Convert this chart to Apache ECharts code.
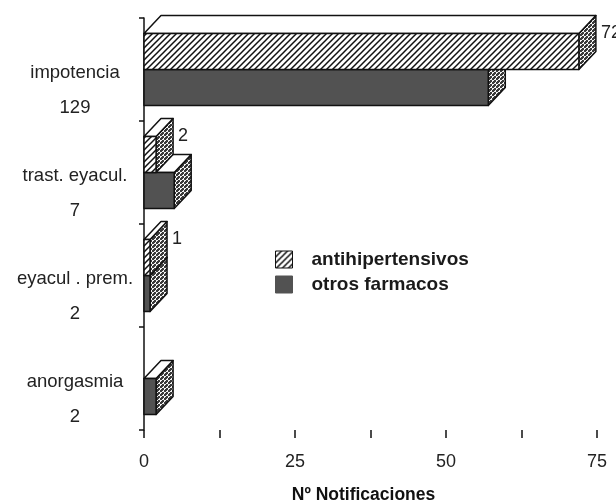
<!DOCTYPE html>
<html>
<head>
<meta charset="utf-8">
<script src="https://cdn.jsdelivr.net/npm/echarts@6/dist/echarts.min.js"></script>
<style>
  html, body { margin: 0; padding: 0; background: #fff; }
  #chart { width: 616px; height: 504px; }
</style>
</head>
<body>
<div id="chart"></div>
<script>
// Data
const categories = ['impotencia', 'trast. eyacul.', 'eyacul . prem.', 'anorgasmia'];
const totals = [129, 7, 2, 2];
const antihipertensivos = [72, 2, 1, 0];
const otrosFarmacos = [57, 5, 1, 2];
const xTicks = [0, 25, 50, 75];

const FONT = '"Liberation Sans", Arial, sans-serif';
const DX = 17, DY = 18; // 3D depth of the boxes

// Fill patterns - hatched front and dotted sides
function makeTile(size, draw) {
  const c = document.createElement('canvas');
  c.width = size; c.height = size;
  draw(c.getContext('2d'), size);
  return { image: c, repeat: 'repeat' };
}
const hatch = makeTile(6, (ctx, s) => {
  ctx.fillStyle = '#fff';
  ctx.fillRect(0, 0, s, s);
  ctx.strokeStyle = '#111';
  ctx.lineWidth = 1.5;
  ctx.beginPath();
  ctx.moveTo(-1, s + 1); ctx.lineTo(s + 1, -1);
  ctx.moveTo(-1, 1); ctx.lineTo(1, -1);
  ctx.moveTo(s - 1, s + 1); ctx.lineTo(s + 1, s - 1);
  ctx.stroke();
});
const dots = makeTile(4, (ctx, s) => {
  ctx.fillStyle = '#3a3a3a';
  ctx.fillRect(0, 0, s, s);
  ctx.fillStyle = '#f2f2f2';
  ctx.fillRect(0, 0, 2, 2);
  ctx.fillRect(2, 2, 2, 2);
  ctx.fillStyle = '#3a3a3a';
  ctx.fillRect(1, 1, 2, 2);
});
const darkFill = '#525252';

function boxRenderer(upper, frontFill, showLabel) {
  return function (params, api) {
    const val = api.value(0);
    if (!val) return null;
    const cat = api.value(1);
    const end = api.coord([val, cat]);
    const start = api.coord([0, cat]);
    const h = api.size([0, 1])[1] * 0.35;
    const y0 = upper ? end[1] - h : end[1];
    const y1 = y0 + h;
    const x0 = start[0], x1 = end[0];
    const line = { stroke: '#111', lineWidth: 1.5, lineJoin: 'round' };
    const children = [
      { type: 'polygon', shape: { points: [[x1, y0], [x1 + DX, y0 - DY], [x1 + DX, y1 - DY], [x1, y1]] },
        style: Object.assign({ fill: dots }, line) },
      { type: 'polygon', shape: { points: [[x0, y0], [x0 + DX, y0 - DY], [x1 + DX, y0 - DY], [x1, y0]] },
        style: Object.assign({ fill: '#fff' }, line) },
      { type: 'rect', shape: { x: x0, y: y0, width: x1 - x0, height: h },
        style: Object.assign({ fill: frontFill }, line) }
    ];
    if (showLabel) {
      children.push({ type: 'text', style: {
        text: String(val), x: x1 + DX + 5, y: y0, fill: '#222',
        font: '18px ' + FONT, verticalAlign: 'middle'
      } });
    }
    return { type: 'group', children: children };
  };
}

const chart = echarts.init(document.getElementById('chart'));
const option = {
  animation: false,
  backgroundColor: '#fff',
  grid: { left: 144, right: 19, top: 18, bottom: 74, outerBoundsMode: 'none', containLabel: false },
  legend: {
    orient: 'vertical',
    left: 270,
    top: 245,
    itemWidth: 17,
    itemHeight: 17,
    itemGap: 6,
    icon: 'rect',
    textStyle: { fontFamily: FONT, fontSize: 19, fontWeight: 'bold', color: '#1a1a1a', padding: [0, 0, 0, 14] },
    data: [
      { name: 'antihipertensivos', itemStyle: { color: hatch, borderColor: '#111', borderWidth: 1 } },
      { name: 'otros farmacos', itemStyle: { color: darkFill, borderColor: darkFill, borderWidth: 1 } }
    ]
  },
  xAxis: {
    type: 'value',
    min: xTicks[0],
    max: xTicks[xTicks.length - 1],
    interval: xTicks[1] - xTicks[0],
    axisLine: { lineStyle: { color: '#111', width: 1.5 } },
    axisTick: { show: true, length: 8, lineStyle: { color: '#111', width: 1.5 } },
    minorTick: { show: true, splitNumber: 2, length: 8, lineStyle: { color: '#111', width: 1.5 } },
    splitLine: { show: false },
    axisLabel: { fontFamily: FONT, fontSize: 18, color: '#222', margin: 23 },
    name: 'Nº Notificaciones',
    nameLocation: 'middle',
    nameGap: 56,
    nameTextStyle: { fontFamily: FONT, fontSize: 17.5, fontWeight: 'bold', color: '#111', padding: [0, 14, 0, 0] }
  },
  yAxis: {
    type: 'category',
    data: categories,
    inverse: true,
    axisLine: { lineStyle: { color: '#111', width: 1.5 } },
    axisTick: { show: true, length: 5, lineStyle: { color: '#111', width: 1.5 } },
    splitLine: { show: false },
    axisLabel: {
      margin: 69,
      align: 'center',
      verticalAlign: 'top',
      formatter: (v, i) => '{n|' + v + '}\n{c|' + totals[i] + '}',
      rich: {
        n: { fontFamily: FONT, fontSize: 18.5, color: '#222', lineHeight: 6 },
        c: { fontFamily: FONT, fontSize: 18.5, color: '#222', lineHeight: 64 }
      }
    }
  },
  series: [
    {
      name: 'otros farmacos',
      type: 'custom',
      z: 2,
      itemStyle: { color: darkFill },
      encode: { x: 0, y: 1 },
      renderItem: boxRenderer(false, darkFill, false),
      data: otrosFarmacos.map((v, i) => [v, i])
    },
    {
      name: 'antihipertensivos',
      type: 'custom',
      z: 3,
      itemStyle: { color: hatch },
      encode: { x: 0, y: 1 },
      renderItem: boxRenderer(true, hatch, true),
      data: antihipertensivos.map((v, i) => [v, i])
    }
  ]
};
option && chart.setOption(option);
</script>
</body>
</html>
